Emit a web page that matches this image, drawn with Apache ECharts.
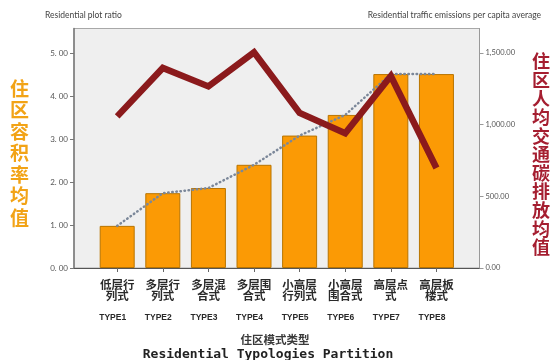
<!DOCTYPE html>
<html>
<head>
<meta charset="utf-8">
<script src="https://cdn.jsdelivr.net/npm/echarts@6/dist/echarts.min.js"></script>
<style>
  html, body { margin: 0; padding: 0; background: #ffffff; }
  #chart { width: 551px; height: 360px; }
</style>
</head>
<body>
<div id="chart"></div>
<script>
// Residential typologies: plot ratio (bars) and per-capita traffic emissions (line)
const typologyNames = ['低层行\n列式', '多层行\n列式', '多层混\n合式', '多层围\n合式',
                       '小高层\n行列式', '小高层\n围合式', '高层点\n式', '高层板\n楼式'];
const typeCodes = ['TYPE1', 'TYPE2', 'TYPE3', 'TYPE4', 'TYPE5', 'TYPE6', 'TYPE7', 'TYPE8'];
const plotRatio = [0.98, 1.74, 1.86, 2.40, 3.08, 3.56, 4.51, 4.51];
const emissions = [1058, 1396, 1267, 1505, 1082, 940, 1340, 698];
const ratioTicks = [0, 1, 2, 3, 4, 5];
const emissionTicks = [0, 500, 1000, 1500];

const positions = typeCodes.map((_, i) => i + 1);
const barData = plotRatio.map((v, i) => [positions[i], v]);
const lineData = emissions.map((v, i) => [positions[i], v]);

const chart = echarts.init(document.getElementById('chart'), null, { renderer: 'canvas' });

function fmtRatio(v) { return v.toFixed(2).replace('.', '. '); }
function fmtEmission(v) {
  return v.toFixed(2).replace(/\B(?=(\d{3})+(?!\d))/g, ',');
}

const latin = 'Lato, "Open Sans", sans-serif';
const cjk = '"Noto Sans CJK SC", sans-serif';

chart.setOption({
  animation: false,
  backgroundColor: '#ffffff',
  grid: {
    left: 74, right: 71.5, top: 28.5, bottom: 92,
    show: true, backgroundColor: '#efefef', borderColor: '#a8a8a8', borderWidth: 1
  },
  xAxis: {
    type: 'value', min: 0.053, max: 8.944,
    splitLine: { show: false },
    axisLine: { show: true, onZero: false, lineStyle: { color: '#555', width: 1 } },
    axisTick: { show: true, customValues: positions, length: 4, lineStyle: { color: '#666' } },
    axisLabel: {
      customValues: positions, margin: 11,
      formatter: function (v) {
        const i = Math.round(v) - 1;
        const lines = typologyNames[i].split('\n');
        return lines.map(l => '{cn|' + l + '}').join('\n') + '\n{ty|' + typeCodes[i] + '}';
      },
      rich: {
        cn: { fontFamily: cjk, fontSize: 11.5, fontWeight: 'bold', color: '#2a2a2a', lineHeight: 11 },
        ty: { fontFamily: '"Liberation Sans Narrow", "Liberation Sans", sans-serif', fontSize: 8.5,
              fontWeight: 'bold', color: '#2a2a2a', lineHeight: 33, padding: [0, 9, 0, 0] }
      }
    }
  },
  yAxis: [
    {
      type: 'value', min: 0, max: 5.57,
      splitLine: { show: false },
      axisLine: { show: true, lineStyle: { color: '#777', width: 1.5 } },
      axisTick: { show: true, customValues: ratioTicks, length: 4, lineStyle: { color: '#777' } },
      axisLabel: { customValues: ratioTicks, formatter: fmtRatio, margin: 6,
                   fontFamily: latin, fontSize: 8, color: '#555' }
    },
    {
      type: 'value', min: 0, max: 1671,
      splitLine: { show: false },
      axisLine: { show: true, lineStyle: { color: '#999', width: 1 } },
      axisTick: { show: true, customValues: emissionTicks, length: 4, lineStyle: { color: '#999' } },
      axisLabel: { customValues: emissionTicks, formatter: fmtEmission, margin: 6,
                   fontFamily: latin, fontSize: 7.5, color: '#555' }
    }
  ],
  series: [
    {
      name: 'plot ratio', type: 'bar', data: barData, barWidth: 35, z: 2,
      itemStyle: { color: '#fb9a05', borderColor: '#b87400', borderWidth: 1 }
    },
    {
      name: 'plot ratio trend', type: 'line', data: barData, symbol: 'none', z: 3,
      lineStyle: { color: '#7b8799', width: 2.5, type: [0.5, 3.6], cap: 'round' }
    },
    {
      name: 'emissions', type: 'line', yAxisIndex: 1, data: lineData, symbol: 'none', z: 4,
      lineStyle: { color: '#8b1a1c', width: 6.5, join: 'miter', cap: 'butt' }
    }
  ],
  graphic: [
    { type: 'text', left: 45, top: 11,
      style: { text: 'Residential plot ratio', fontFamily: latin, fontSize: 8.5, fill: '#444' } },
    { type: 'text', right: 10, top: 11,
      style: { text: 'Residential traffic emissions per capita average', fontFamily: latin,
               fontSize: 8.5, fill: '#444' } },
    { type: 'text', left: 10, top: 78,
      style: { text: '住区容积率均值'.split('').join('\n'), fontFamily: cjk, fontSize: 19,
               lineHeight: 21.5, fontWeight: 'bold', fill: '#f2a316' } },
    { type: 'text', left: 532, top: 52,
      style: { text: '住区人均交通碳排放均值'.split('').join('\n'), fontFamily: cjk, fontSize: 18,
               lineHeight: 18.6, fontWeight: 'bold', fill: '#a51e30' } },
    { type: 'text', x: 275, y: 340,
      style: { text: '住区模式类型', fontFamily: cjk, fontSize: 11.5, fontWeight: 'bold', fill: '#3a3a3a',
               align: 'center', verticalAlign: 'middle' } },
    { type: 'text', x: 268, y: 355,
      style: { text: 'Residential Typologies Partition', fontFamily: '"DejaVu Sans Mono", monospace',
               fontSize: 13, fontWeight: 'bold', fill: '#222', align: 'center', verticalAlign: 'middle' } }
  ]
});
</script>
</body>
</html>
